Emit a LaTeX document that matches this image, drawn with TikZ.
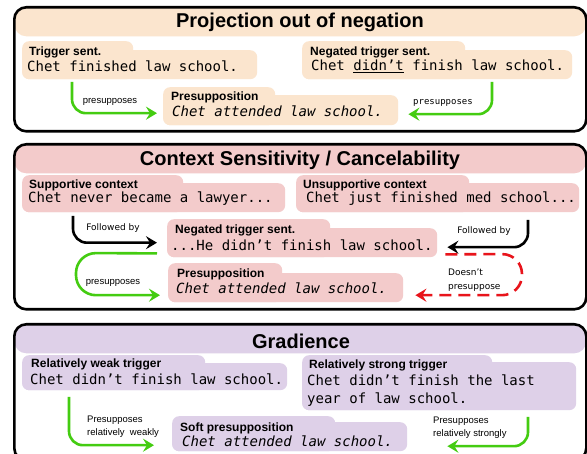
\documentclass[tikz,border=0pt]{standalone}
\usepackage{fontspec}
\setmainfont{Liberation Sans}
\newfontfamily\monof{DejaVu Sans Mono}
\newfontfamily\dvsans{DejaVu Sans}
\usetikzlibrary{arrows.meta}
\definecolor{peach}{HTML}{FBE5CE}
\definecolor{pinkc}{HTML}{F3CBCB}
\definecolor{lav}{HTML}{DED0E8}
\definecolor{grn}{HTML}{44CC11}
\definecolor{redc}{HTML}{E8141B}
\begin{document}
\begin{tikzpicture}[x=1pt,y=-1pt,
 panel/.style={draw=black, line width=2.6pt, rounded corners=12pt, fill=white, inner sep=0, anchor=north west, minimum width=572pt},
 band/.style={path picture={\fill[#1] ([yshift=3pt]path picture bounding box.north west) rectangle ([yshift=-29pt]path picture bounding box.north east);}},
 boxc/.style={fill=#1, rounded corners=7pt, inner sep=0, anchor=north west},
 ttl/.style={font=\fontsize{20}{24}\selectfont\bfseries, inner sep=0},
 lab/.style={font=\fontsize{12}{14}\selectfont\bfseries, anchor=west, inner sep=0},
 sent/.style={font=\fontsize{14}{18}\selectfont\monof, anchor=west, inner sep=0},
 isent/.style={font=\fontsize{14}{18}\selectfont\monof\itshape, anchor=west, inner sep=0},
 alab/.style={font=\fontsize{9.5}{13}\selectfont, inner sep=0},
 dlab/.style={font=\fontsize{9}{13.5}\selectfont\dvsans, inner sep=0},
 arr/.style={line width=2.6pt, rounded corners=14pt, -{Stealth[length=11pt,width=13pt,inset=4pt]}},
 garr/.style={arr, draw=grn},
 karr/.style={arr, draw=black},
 rarr/.style={arr, draw=redc, rounded corners=20pt, dash pattern=on 12pt off 7pt}
]
\useasboundingbox (0,0) rectangle (587,454);

% ---------- Panel 1 ----------
\node[panel, band=peach, minimum height=124pt] (p1) at (13,6) {};
\node[ttl] (t1) at (300,22) {Projection out of negation};

\node[boxc=peach, minimum width=111pt, minimum height=38pt] (trigT) at (22,41) {};
\node[boxc=peach, minimum width=235pt, minimum height=29pt] (trigB) at (22,50) {};
\node[lab] (trigL) at (29,52) {Trigger sent.};
\node[sent] (trigS) at (27,66) {Chet finished law school.};

\node[boxc=peach, minimum width=163pt, minimum height=38pt] (neg1T) at (302,41) {};
\node[boxc=peach, minimum width=270pt, minimum height=29pt] (neg1B) at (302,50) {};
\node[lab] (neg1L) at (310,52) {Negated trigger sent.};
\node[sent] (neg1S) at (311,66) {Chet \underline{didn’t} finish law school.};

\node[boxc=peach, minimum width=112pt, minimum height=38pt] (pres1T) at (163,87) {};
\node[boxc=peach, minimum width=235pt, minimum height=30pt] (pres1B) at (163,95) {};
\node[lab] (pres1L) at (171,97) {Presupposition};
\node[isent] (pres1S) at (172,111) {Chet attended law school.};

\coordinate (a1s) at (72,82);
\coordinate (a2s) at (492,82);
\draw[garr] (a1s) |- ([xshift=-6pt,yshift=-3pt]pres1B.west);
\draw[garr] (a2s) |- ([xshift=10pt,yshift=-4pt]pres1B.east);
\node[alab] (l1) at (110,102) {presupposes};
\node[font=\fontsize{9}{11}\selectfont\monof, inner sep=0] (l2) at (443,103) {presupposes};

% ---------- Panel 2 ----------
\node[panel, band=pinkc, minimum height=165pt] (p2) at (13,143) {};
\node[ttl] (t2) at (300,160) {Context Sensitivity / Cancelability};

\node[boxc=pinkc, minimum width=161pt, minimum height=37pt] (suppT) at (22,175) {};
\node[boxc=pinkc, minimum width=263pt, minimum height=29pt] (suppB) at (22,183) {};
\node[lab] (suppL) at (29,185) {Supportive context};
\node[sent] (suppS) at (28,199) {Chet never became a lawyer...};

\node[boxc=pinkc, minimum width=173pt, minimum height=37pt] (unsT) at (296,175) {};
\node[boxc=pinkc, minimum width=283pt, minimum height=29pt] (unsB) at (296,183) {};
\node[lab] (unsL) at (303,185) {Unsupportive context};
\node[sent] (unsS) at (306,199) {Chet just finished med school...};

\node[boxc=pinkc, minimum width=163pt, minimum height=38pt] (neg2T) at (167,219) {};
\node[boxc=pinkc, minimum width=270pt, minimum height=29pt] (neg2B) at (167,228) {};
\node[lab] (neg2L) at (175,230) {Negated trigger sent.};
\node[sent] (neg2S) at (171,245) {...He didn’t finish law school.};

\node[boxc=pinkc, minimum width=114pt, minimum height=39pt] (pres2T) at (168,263) {};
\node[boxc=pinkc, minimum width=235pt, minimum height=29pt] (pres2B) at (168,273) {};
\node[lab] (pres2L) at (177,274) {Presupposition};
\node[isent] (pres2S) at (176,288) {Chet attended law school.};

\coordinate (b1s) at (73,216);
\coordinate (b2s) at (528,220);
\draw[karr] (b1s) |- ([xshift=-10pt]neg2B.west);
\draw[karr] (b2s) |- ([xshift=10pt,yshift=-4.5pt]neg2B.east);
\node[dlab] (l3) at (113,228) {Followed by};
\node[dlab] (l4) at (484,231) {Followed by};

\coordinate (g3c) at (76,253);
\draw[garr, rounded corners=20pt] ([xshift=-10pt,yshift=4pt]neg2B.south west) -- (g3c) |- ([xshift=-8pt,yshift=-7.5pt]pres2B.west);
\node[alab] (l5) at (113,283) {presupposes};

\coordinate (r1c) at (522,254);
\draw[rarr] ([xshift=8pt,yshift=3pt]neg2B.south east) -- (r1c) |- ([xshift=12pt,yshift=-7.5pt]pres2B.east);
\node[dlab, align=left, anchor=west] (l6) at (448,280) {Doesn’t\\presuppose};

% ---------- Panel 3 ----------
\node[panel, band=lav, minimum height=136pt] (p3) at (13,323) {};
\node[ttl] (t3) at (301,341) {Gradience};

\node[boxc=lav, minimum width=183pt, minimum height=35pt] (weakT) at (22,355) {};
\node[boxc=lav, minimum width=265pt, minimum height=27pt] (weakB) at (22,363) {};
\node[lab] (weakL) at (31,364) {Relatively weak trigger};
\node[sent] (weakS) at (30,379) {Chet didn’t finish law school.};

\node[boxc=lav, minimum width=190pt, minimum height=55pt] (strT) at (302,355) {};
\node[boxc=lav, minimum width=274pt, minimum height=48pt] (strB) at (302,362) {};
\node[lab] (strL) at (309,365) {Relatively strong trigger};
\node[sent, align=left] (strS) at (307,391) {Chet didn’t finish the last\\year of law school.};

\node[boxc=lav, minimum width=163pt, minimum height=35pt] (softT) at (172,416) {};
\node[boxc=lav, minimum width=235pt, minimum height=29pt] (softB) at (172,422) {};
\node[lab] (softL) at (180,428) {Soft presupposition};
\node[isent] (softS) at (182,441) {Chet attended law school.};

\coordinate (g4s) at (69,397);
\coordinate (g5s) at (528,417);
\draw[garr] (g4s) |- ([xshift=-18pt,yshift=-8.5pt]softB.west);
\draw[garr] (g5s) |- ([xshift=40pt,yshift=-9.5pt]softB.east);
\node[alab, align=left, anchor=west] (l7) at (87,427) {Presupposes\\relatively\ \ weakly};
\node[alab, align=left, anchor=west] (l8) at (433,428) {Presupposes\\relatively strongly};
\end{tikzpicture}
\end{document}
